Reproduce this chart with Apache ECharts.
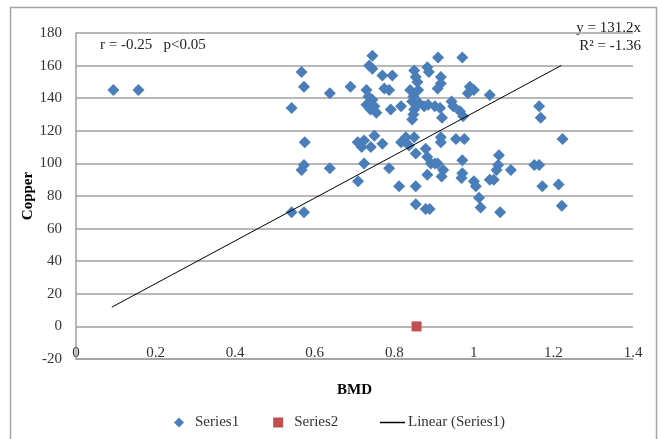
<!DOCTYPE html>
<html>
<head>
<meta charset="utf-8">
<script src="https://cdn.jsdelivr.net/npm/echarts@6/dist/echarts.min.js"></script>
<style>
  html, body { margin: 0; padding: 0; background: #fff; }
  #chart { width: 662px; height: 439px; }
</style>
</head>
<body>
<div id="chart"></div>
<script>
// BMD vs copper
const bmd = [
	0.094, 0.157, 0.542, 0.567, 0.573, 0.575, 0.567, 0.573, 0.542, 0.573,
	0.638, 0.638, 0.69, 0.708, 0.718, 0.709, 0.724, 0.724, 0.741, 0.75,
	0.77, 0.745, 0.737, 0.745, 0.77, 0.795, 0.775, 0.787, 0.73, 0.735,
	0.745, 0.73, 0.75, 0.74, 0.755, 0.791, 0.817, 0.787, 0.812, 0.817,
	0.829, 0.837, 0.85, 0.854, 0.854, 0.879, 0.883, 0.854, 0.879, 0.883,
	0.892, 0.909, 0.917, 0.917, 0.955, 0.976, 0.85, 0.883, 0.887, 0.854,
	0.858, 0.91, 0.971, 0.917, 0.917, 0.909, 0.84, 0.848, 0.86, 0.845,
	0.862, 0.85, 0.848, 0.845, 0.875, 0.885, 0.902, 0.915, 0.944, 0.948,
	0.965, 0.973, 0.92, 0.99, 1.0, 0.985, 1.04, 1.164, 1.168, 0.971,
	0.971, 0.969, 1.0, 1.005, 1.013, 1.017, 1.066, 1.05, 1.04, 1.063,
	1.061, 1.057, 1.093, 1.152, 1.164, 1.172, 1.213, 1.221, 1.223, 0.923,
	0.919, 0.889, 0.902
]
const copper = [
	145, 145, 134, 156, 147, 113, 96, 99, 70, 70,
	143, 97, 147, 113, 110, 89, 100, 114, 110, 117,
	112, 166, 160, 158, 154, 154, 146, 145, 145, 141,
	139, 136, 135, 133, 131, 133, 135, 97, 86, 113,
	116, 111, 116, 86, 75, 72, 93, 106, 109, 104,
	100, 100, 113, 116, 115, 115, 157, 159, 156, 153,
	150, 165, 165, 153, 149, 146, 145, 141, 145, 138,
	137, 133, 130, 127, 135, 136, 135, 134, 138, 135,
	132, 129, 128, 147, 145, 143, 142, 135, 128, 102,
	94, 91, 89, 86, 79, 73, 70, 90, 90, 105,
	99, 96, 96, 99, 99, 86, 87, 74, 115, 96,
	92, 72, 100
]
const series2Bmd = [0.856]
const series2Copper = [0]
// trendline endpoints (y = 131.2x over the data range)
const trendBmd = [0.09, 1.22]
const trendCopper = [11.8, 160.1]

const xTicks = { min: 0, max: 1.4, step: 0.2 }
const yTicks = { min: -20, max: 180, step: 20 }

const serif = "'Liberation Serif', 'DejaVu Serif', serif"

const chart = echarts.init(document.getElementById("chart"))
chart.setOption({
	animation: false,
	textStyle: { fontFamily: serif },
	grid: { left: 76, right: 29, top: 33, bottom: 80 },
	xAxis: {
		type: "value",
		min: xTicks.min, max: xTicks.max, interval: xTicks.step,
		name: "BMD",
		nameLocation: "middle",
		nameGap: 24,
		nameMoveOverlap: false,
		nameTextStyle: { fontFamily: serif, fontSize: 15, fontWeight: "bold", color: "#000" },
		axisLine: { show: true, onZero: false, lineStyle: { color: "#a0a0a0", width: 1.5 } },
		axisTick: { show: false },
		splitLine: { show: false },
		axisLabel: { fontFamily: serif, fontSize: 15, color: "#333", margin: -13 }
	},
	yAxis: {
		type: "value",
		min: yTicks.min, max: yTicks.max, interval: yTicks.step,
		name: "Copper",
		nameLocation: "middle",
		nameGap: 40,
		nameMoveOverlap: false,
		nameTextStyle: { fontFamily: serif, fontSize: 15, fontWeight: "bold", color: "#000" },
		axisLine: { show: true, lineStyle: { color: "#a0a0a0", width: 1.5 } },
		axisTick: { show: false },
		splitLine: { lineStyle: { color: "#a0a0a0", width: 1.5 } },
		axisLabel: { fontFamily: serif, fontSize: 15, color: "#333", margin: 14 }
	},
	legend: [
		{
			data: [
				{ name: "Series1", icon: "diamond" },
				{ name: "Series2", icon: "rect" }
			],
			left: 169, top: 410,
			itemWidth: 10, itemHeight: 10,
			itemGap: 34,
			textStyle: { fontFamily: serif, fontSize: 15, color: "#333", padding: [0, 0, 0, 6] }
		},
		{
			data: [{ name: "Linear (Series1)", icon: "rect" }],
			left: 375, top: 410,
			itemWidth: 25, itemHeight: 1.5,
			textStyle: { fontFamily: serif, fontSize: 15, color: "#333", padding: [0, 0, 0, -2] }
		}
	],
	graphic: [
		{
			type: "rect",
			shape: { x: 10.5, y: 7.5, width: 646, height: 440 },
			style: { fill: "none", stroke: "#a6a6a6", lineWidth: 1.5 },
			silent: true
		},
		{
			type: "text", left: 100, top: 38,
			style: { text: "r = -0.25   p<0.05", font: "15px " + serif, fill: "#222" }
		},
		{
			type: "text", right: 21, top: 21,
			style: { text: "y = 131.2x", font: "15px " + serif, fill: "#222", align: "right" }
		},
		{
			type: "text", right: 21, top: 39,
			style: { text: "R² = -1.36", font: "15px " + serif, fill: "#222", align: "right" }
		}
	],
	series: [
		{
			name: "Series1",
			type: "scatter",
			symbol: "diamond",
			symbolSize: 12,
			itemStyle: { color: "#4a7ebb", opacity: 1 },
			data: bmd.map((x, i) => [x, copper[i]]),
			z: 3
		},
		{
			name: "Series2",
			type: "scatter",
			symbol: "rect",
			symbolSize: 10,
			itemStyle: { color: "#c0504d", opacity: 1 },
			data: series2Bmd.map((x, i) => [x, series2Copper[i]]),
			z: 3
		},
		{
			name: "Linear (Series1)",
			type: "line",
			symbol: "none",
			lineStyle: { color: "#000", width: 1 },
			itemStyle: { color: "#000" },
			data: trendBmd.map((x, i) => [x, trendCopper[i]]),
			z: 4
		}
	]
})
</script>
</body>
</html>
